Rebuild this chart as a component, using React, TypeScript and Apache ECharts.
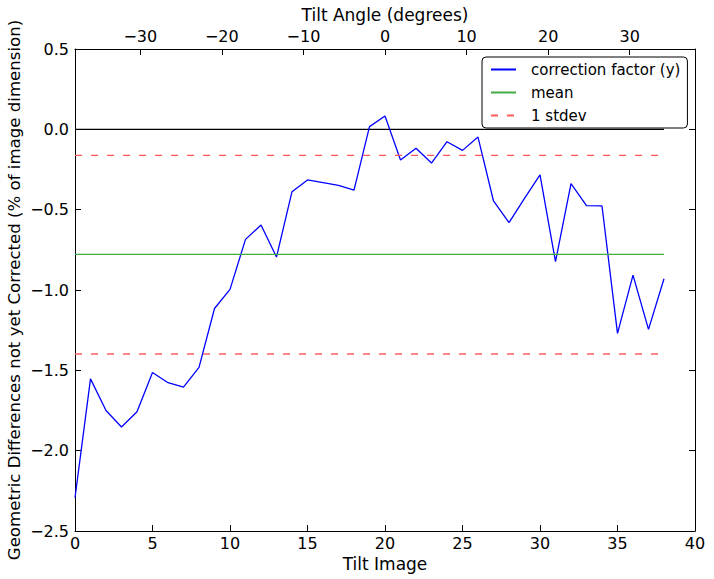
import React, { useEffect, useRef } from "react";
import * as echarts from "echarts";

const tiltImages: number[] = Array.from({ length: 39 }, (_, i) => i);
const correction: number[] = [
  -2.293, -1.553, -1.75, -1.853, -1.758, -1.513, -1.577, -1.604, -1.482, -1.115,
  -0.996, -0.685, -0.596, -0.795, -0.388, -0.315, -0.332, -0.349, -0.378, 0.017,
  0.083, -0.191, -0.118, -0.21, -0.077, -0.131, -0.048, -0.446, -0.581, -0.43,
  -0.284, -0.824, -0.338, -0.475, -0.477, -1.27, -0.907, -1.245, -0.93,
];
const meanValue = -0.778;
const stdevUpper = -0.162;
const stdevLower = -1.398;
const zeroValue = 0;
const lineStart = 0;
const lineEnd = 38;
const angleTicks: number[] = [-30, -20, -10, 0, 10, 20, 30];

const FONT = "DejaVu Sans";
const fmtMinus = (v: number, d: number) => v.toFixed(d).replace("-", "\u2212");

export default function App() {
  const ref = useRef<HTMLDivElement>(null);
  useEffect(() => {
    if (!ref.current) return;
    const chart = echarts.init(ref.current, undefined, { renderer: "svg" });
    const hline = (v: number) => [
      [lineStart, v],
      [lineEnd, v],
    ];
    chart.setOption({
      animation: false,
      textStyle: { fontFamily: FONT },
      grid: { left: 75, right: 19, top: 49, bottom: 48, containLabel: false, outerBoundsMode: "none" },
      legend: {
        orient: "vertical",
        left: 482,
        top: 57,
        width: 205,
        padding: [5, 7, 5, 8],
        itemGap: 8,
        itemWidth: 25,
        itemHeight: 14,
        borderColor: "#000",
        borderWidth: 1,
        borderRadius: 4,
        itemStyle: { opacity: 0 },
        textStyle: { fontFamily: FONT, fontSize: 15, color: "#000", padding: [0, 0, 0, 10] },
        data: ["correction factor (y)", "mean", "1 stdev"],
      },
      xAxis: [
        {
          type: "value",
          min: 0,
          max: 40,
          interval: 5,
          name: "Tilt Image",
          nameLocation: "middle",
          nameGap: 18,
          nameTextStyle: { fontFamily: FONT, fontSize: 17, color: "#000" },
          axisLine: { onZero: false, lineStyle: { color: "#000", width: 1 } },
          axisTick: { inside: true, length: 6, lineStyle: { color: "#000" } },
          axisLabel: { fontFamily: FONT, fontSize: 16, color: "#000", margin: 4 },
          splitLine: { show: false },
        },
        {
          type: "value",
          min: -38,
          max: 38,
          position: "top",
          name: "Tilt Angle (degrees)",
          nameLocation: "middle",
          nameGap: 24,
          nameTextStyle: { fontFamily: FONT, fontSize: 17, color: "#000" },
          axisLine: { onZero: false, lineStyle: { color: "#000", width: 1 } },
          axisTick: {
            inside: true,
            length: 6,
            lineStyle: { color: "#000" },
            customValues: angleTicks,
          },
          axisLabel: {
            fontFamily: FONT,
            fontSize: 16,
            color: "#000",
            margin: 5,
            customValues: angleTicks,
            formatter: (v: number) => fmtMinus(v, 0),
          },
          splitLine: { show: false },
        },
      ],
      yAxis: [
        {
          type: "value",
          min: -2.5,
          max: 0.5,
          interval: 0.5,
          name: "Geometric Differences not yet Corrected (% of image dimension)",
          nameLocation: "middle",
          nameGap: 52,
          nameMoveOverlap: false,
          nameTextStyle: { fontFamily: FONT, fontSize: 16.6, color: "#000" },
          axisLine: { onZero: false, lineStyle: { color: "#000", width: 1 } },
          axisTick: { inside: true, length: 6, lineStyle: { color: "#000" } },
          axisLabel: {
            fontFamily: FONT,
            fontSize: 16,
            color: "#000",
            margin: 6,
            formatter: (v: number) => fmtMinus(v, 1),
          },
          splitLine: { show: false },
        },
        {
          type: "value",
          min: -2.5,
          max: 0.5,
          interval: 0.5,
          position: "right",
          axisLine: { onZero: false, lineStyle: { color: "#000", width: 1 } },
          axisTick: { inside: true, length: 6, lineStyle: { color: "#000" } },
          axisLabel: { show: false },
          splitLine: { show: false },
        },
      ],
      series: [
        {
          name: "zero",
          type: "line",
          data: hline(zeroValue),
          symbol: "none",
          lineStyle: { color: "#000", width: 1.2 },
          itemStyle: { color: "#000" },
          silent: true,
        },
        {
          name: "correction factor (y)",
          type: "line",
          data: tiltImages.map((x, i) => [x, correction[i]]),
          symbol: "none",
          lineStyle: { color: "#0000ff", width: 1.3 },
          itemStyle: { color: "#0000ff" },
        },
        {
          name: "mean",
          type: "line",
          data: hline(meanValue),
          symbol: "none",
          lineStyle: { color: "#44aa44", width: 1.3 },
          itemStyle: { color: "#44aa44" },
        },
        {
          name: "1 stdev",
          type: "line",
          data: hline(stdevUpper),
          symbol: "none",
          lineStyle: { color: "#ff5c5c", width: 1.4, type: [7, 9] },
          itemStyle: { color: "#ff5c5c" },
        },
        {
          name: "1 stdev",
          type: "line",
          data: hline(stdevLower),
          symbol: "none",
          lineStyle: { color: "#ff5c5c", width: 1.4, type: [7, 9] },
          itemStyle: { color: "#ff5c5c" },
        },
      ],
    });
    return () => chart.dispose();
  }, []);
  return <div ref={ref} style={{ width: 714, height: 579, position: "absolute", left: 0, top: 0 }} />;
}
